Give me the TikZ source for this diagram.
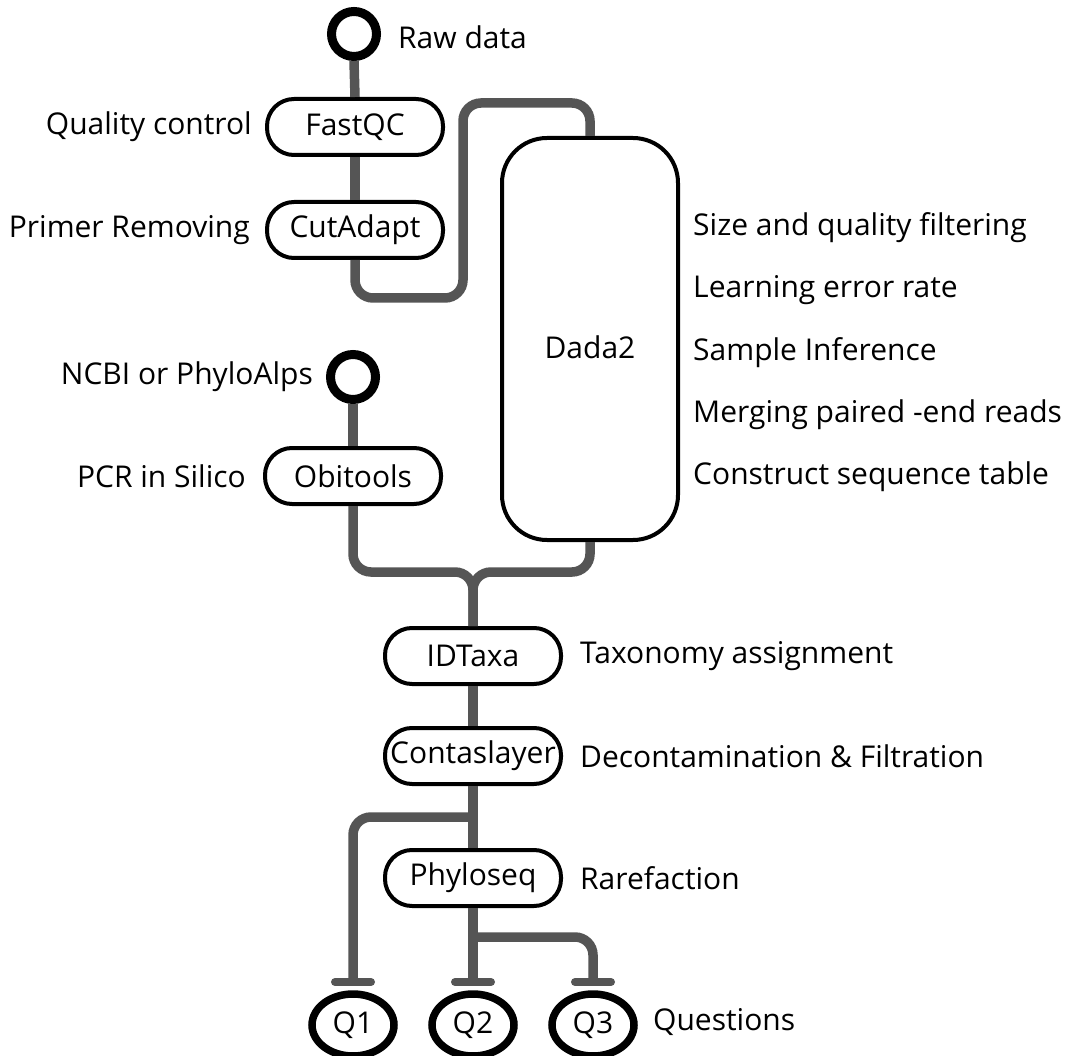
\documentclass[tikz,border=0pt]{standalone}
\usepackage{fontspec}
\setmainfont{Open Sans}
\usetikzlibrary{arrows.meta,shapes.geometric}
\definecolor{lineg}{RGB}{85,85,85}
\tikzset{
  x=1pt,y=-1pt,
  every node/.style={font=\fontsize{30}{35}\selectfont},
  proc/.style={draw=black,line width=4pt,rounded corners=27pt,minimum width=176pt,minimum height=56pt,inner sep=0pt},
  endpt/.style={draw=black,line width=9pt,circle,minimum size=45pt,inner sep=0pt},
  qnode/.style={draw=black,line width=7.5pt,ellipse,minimum width=82pt,minimum height=62pt,inner sep=0pt},
  conn/.style={draw=lineg,line width=9.5pt,rounded corners=18pt},
  teeend/.style={-{Bar[width=36pt,line width=8pt,round]}},
  lbl/.style={inner sep=0pt}
}
\begin{document}
\begin{tikzpicture}
\useasboundingbox (0,0) rectangle (1076,1056);
% nodes
\node[endpt] (raw) at (354,34) {};
\node[lbl,anchor=west] (rawl) at (398,37) {Raw data};
\node[proc] (fastqc) at (355,127) {FastQC};
\node[lbl,anchor=east] (fastqcl) at (252,127) {Quality control};
\node[proc] (cut) at (355,230) {CutAdapt};
\node[lbl,anchor=east] (cutl) at (250,230) {Primer Removing};
\node[draw=black,line width=4pt,rounded corners=45pt,minimum width=176pt,minimum height=402pt,inner sep=0pt] (dada) at (590,339) {};
\node[lbl] (dadat) at (590,347) {Dada2};
\node[lbl,anchor=west] (d1) at (693,228) {Size and quality filtering};
\node[lbl,anchor=west] (d2) at (693,290) {Learning error rate};
\node[lbl,anchor=west] (d3) at (693,353) {Sample Inference};
\node[lbl,anchor=west] (d4) at (693,415) {Merging paired -end reads};
\node[lbl,anchor=west] (d5) at (693,477) {Construct sequence table};
\node[endpt] (ncbi) at (353,377) {};
\node[lbl,anchor=east] (ncbil) at (313,377) {NCBI or PhyloAlps};
\node[proc] (obi) at (353,476) {Obitools};
\node[lbl,anchor=east] (obil) at (246,476) {PCR in Silico};
\node[proc] (idt) at (473,656) {IDTaxa};
\node[lbl,anchor=west] (idtl) at (580,656) {Taxonomy assignment};
\node[proc] (cont) at (473,756) {Contaslayer};
\node[lbl,anchor=west] (contl) at (580,756) {Decontamination \& Filtration};
\node[proc] (phy) at (473,878) {Phyloseq};
\node[lbl,anchor=west] (phyl) at (580,878) {Rarefaction};
\node[qnode] (q1) at (353,1025) {Q1};
\node[qnode] (q2) at (473,1025) {Q2};
\node[qnode] (q3) at (593,1025) {Q3};
\node[lbl,anchor=west] (ql) at (653,1022) {Questions};
% coordinates
\coordinate (m) at (473,572);
\coordinate (b1) at (473,817);
\coordinate (b2) at (473,937);
\coordinate (t1) at (353,986);
\coordinate (t2) at (473,986);
\coordinate (t3) at (593,986);
% connectors
\path[conn] (raw.south) -- (fastqc.north);
\path[conn] (fastqc.south) -- (cut.north);
\path[conn] (cut.south) -- (355,298) -- (463,298) -- (463,103) -- (590,103) -- (dada.north);
\path[conn] (ncbi.south) -- (obi.north);
\path[conn] (obi.south) -- (353,572) -- (m) -- (idt.north);
\path[conn] (dada.south) -- (590,572) -- (m) -- (idt.north);
\path[conn] (idt.south) -- (cont.north);
\path[conn] (cont.south) -- (phy.north);
\path[conn,teeend] (b1) -- (353,817) -- (t1);
\path[conn,teeend] (phy.south) -- (t2);
\path[conn,teeend] (b2) -- (593,937) -- (t3);
\end{tikzpicture}
\end{document}
